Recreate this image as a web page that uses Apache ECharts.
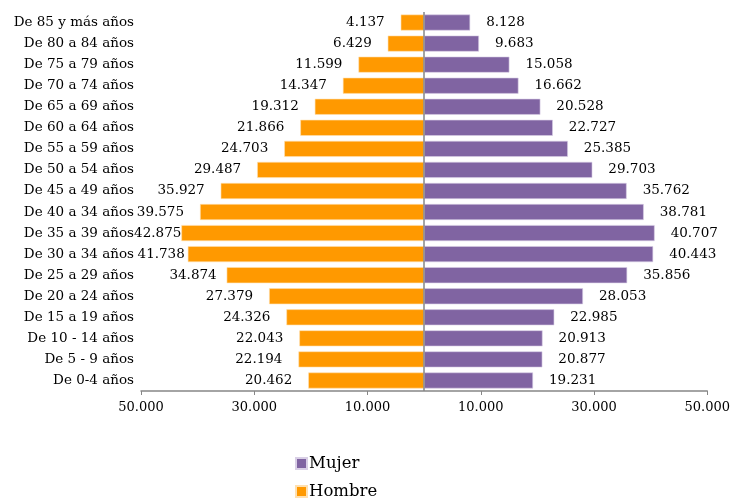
<!DOCTYPE html>
<html><head><meta charset="utf-8">
<script src="https://cdn.jsdelivr.net/npm/echarts@6/dist/echarts.min.js"></script>
<style>html,body{margin:0;padding:0;background:#fff}#c{width:733px;height:499px}</style>
</head><body><div id="c"></div>
<script>
var categories = ["De 85 y más años","De 80 a 84 años","De 75 a 79 años","De 70 a 74 años","De 65 a 69 años","De 60 a 64 años","De 55 a 59 años","De 50 a 54 años","De 45 a 49 años","De 40 a 34 años","De 35 a 39 años","De 30 a 34 años","De 25 a 29 años","De 20 a 24 años","De 15 a 19 años","De 10 - 14 años","De 5 - 9 años","De 0-4 años"];
var hombre = [4137,6429,11599,14347,19312,21866,24703,29487,35927,39575,42875,41738,34874,27379,24326,22043,22194,20462];
var mujer = [8128,9683,15058,16662,20528,22727,25385,29703,35762,38781,40707,40443,35856,28053,22985,20913,20877,19231];
var xTicks = [-50000,-30000,-10000,10000,30000,50000];

function fmt(v){
  var s = String(Math.abs(Math.round(v)));
  return s.replace(/\B(?=(\d{3})+(?!\d))/g, '.');
}
var FONT = 'DejaVu Serif';
// manual label nudges (as in the original, for crowded rows)
var hombreLabelDist = {10: 0, 11: 3, 12: 10};

var hombreData = hombre.map(function(v, i){
  var d = {value: -v};
  if (hombreLabelDist[i] !== undefined) d.label = {distance: hombreLabelDist[i]};
  return d;
});

var chart = echarts.init(document.getElementById('c'));
chart.setOption({
  animation: false,
  textStyle: {fontFamily: FONT},
  grid: {left: 141, right: 22, top: 12, bottom: 108, containLabel: false},
  legend: {
    data: ['Mujer','Hombre'], orient: 'vertical', left: 295, top: 455, height: 60, width: 150,
    itemWidth: 11, itemHeight: 11, itemGap: 11, icon: 'rect', padding: 0,
    textStyle: {fontFamily: FONT, fontSize: 16.5, color: '#000', padding: [0,0,0,-3]}
  },
  xAxis: {
    type: 'value', min: -50000, max: 50000, interval: 20000,
    axisLine: {show: true, lineStyle: {color: '#868686', width: 1.5}},
    axisTick: {show: true, length: 4, lineStyle: {color: '#868686'}},
    splitLine: {show: false},
    axisLabel: {formatter: function(v){return fmt(v);}, color: '#000', fontFamily: FONT, fontSize: 13, margin: 10}
  },
  yAxis: {
    type: 'category', data: categories, inverse: true,
    axisLine: {show: false}, axisTick: {show: false},
    axisLabel: {color: '#000', fontFamily: FONT, fontSize: 13.5, margin: 7}
  },
  series: [
    {
      name: 'Hombre', type: 'bar', stack: 'p', data: hombreData, barWidth: 16,
      itemStyle: {color: '#FF9900', borderColor: '#FFE0B0', borderWidth: 0.6},
      label: {show: true, position: 'left', distance: 16, formatter: function(p){return fmt(p.value);}, color: '#000', fontFamily: FONT, fontSize: 13.5}
    },
    {
      name: 'Mujer', type: 'bar', stack: 'p', data: mujer, barWidth: 16,
      itemStyle: {color: '#8064A2', borderColor: '#D9CFE6', borderWidth: 0.6},
      label: {show: true, position: 'right', distance: 16, formatter: function(p){return fmt(p.value);}, color: '#000', fontFamily: FONT, fontSize: 13.5},
      markLine: {
        silent: true, symbol: 'none', label: {show: false},
        lineStyle: {color: '#868686', type: 'solid', width: 1.5},
        data: [{xAxis: 0}]
      }
    }
  ]
});
</script></body></html>
